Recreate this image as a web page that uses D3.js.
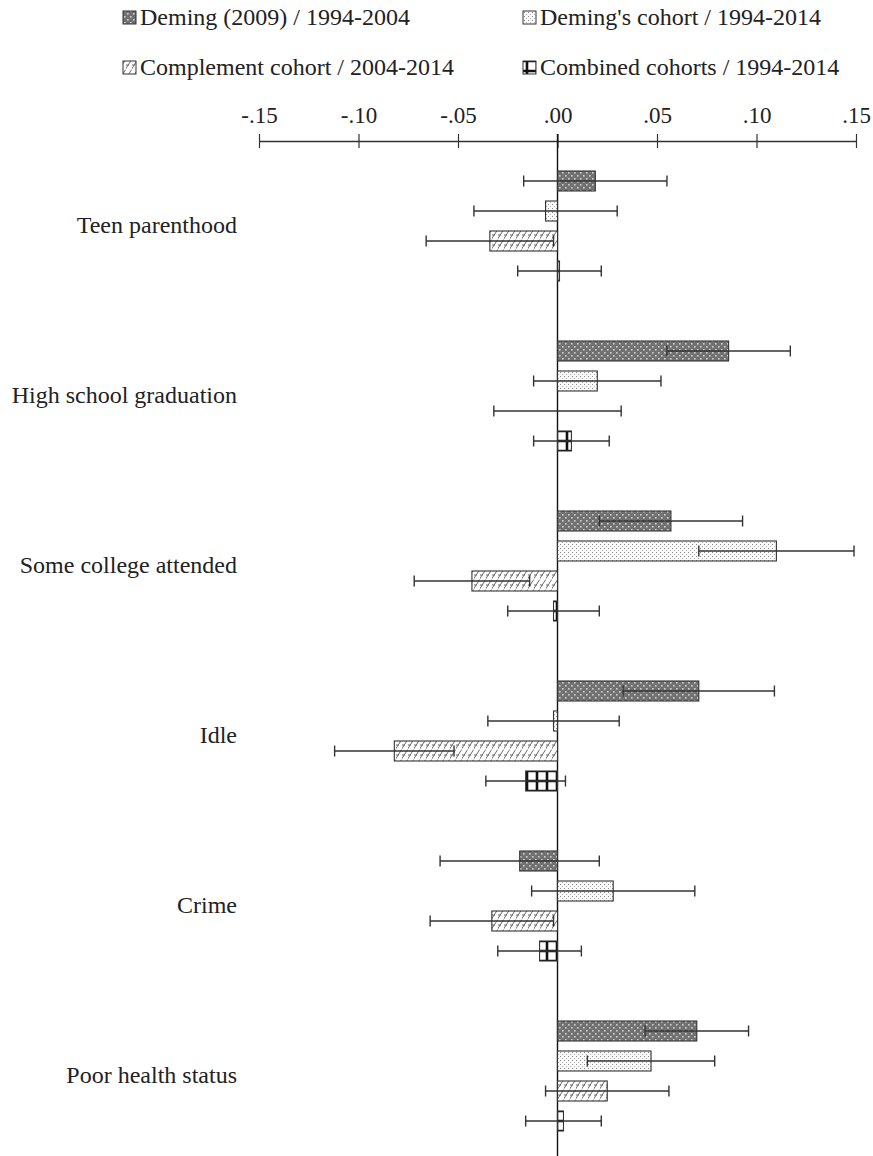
<!DOCTYPE html>
<html>
<head>
<meta charset="utf-8">
<script src="https://d3js.org/d3.v7.min.js"></script>
<style>
  body { margin: 0; background: #fff; }
  svg text { font-family: "Liberation Serif", "Times New Roman", serif; fill: #222; }
</style>
</head>
<body>
<div id="chart"></div>
<script>
// outcomes, top to bottom
const categories = ["Teen parenthood", "High school graduation", "Some college attended", "Idle", "Crime", "Poor health status"];
const seriesNames = ["Deming (2009) / 1994-2004", "Deming's cohort / 1994-2014", "Complement cohort / 2004-2014", "Combined cohorts / 1994-2014"];

// point estimates per series (one per outcome)
const deming2009 = [0.019, 0.086, 0.057, 0.071, -0.019, 0.070];
const demingCohort = [-0.006, 0.020, 0.110, -0.002, 0.028, 0.047];
const complementCohort = [-0.034, 0.000, -0.043, -0.082, -0.033, 0.025];
const combinedCohorts = [0.001, 0.007, -0.002, -0.016, -0.009, 0.003];

// half width of the confidence intervals
const deming2009Ci = [0.036, 0.031, 0.036, 0.038, 0.040, 0.026];
const demingCohortCi = [0.036, 0.032, 0.039, 0.033, 0.041, 0.032];
const complementCohortCi = [0.032, 0.032, 0.029, 0.030, 0.031, 0.031];
const combinedCohortsCi = [0.021, 0.019, 0.023, 0.020, 0.021, 0.019];

const tickValues = [-0.15, -0.10, -0.05, 0, 0.05, 0.10, 0.15];

const estimates = [deming2009, demingCohort, complementCohort, combinedCohorts];
const intervals = [deming2009Ci, demingCohortCi, complementCohortCi, combinedCohortsCi];
const patternIds = ["p-deming", "p-cohort", "p-complement", "p-combined"];

const width = 873, height = 1156;

const svg = d3.select("#chart").append("svg")
    .attr("width", width)
    .attr("height", height);

// fill patterns
const defs = svg.append("defs");

let p = defs.append("pattern").attr("id", "p-deming")
    .attr("patternUnits", "userSpaceOnUse").attr("width", 6).attr("height", 6);
p.append("rect").attr("width", 6).attr("height", 6).attr("fill", "#717171");
p.append("rect").attr("x", 1).attr("y", 1).attr("width", 1.6).attr("height", 1.6).attr("fill", "#cfcfcf");
p.append("rect").attr("x", 4).attr("y", 4).attr("width", 1.6).attr("height", 1.6).attr("fill", "#cfcfcf");

p = defs.append("pattern").attr("id", "p-cohort")
    .attr("patternUnits", "userSpaceOnUse").attr("width", 4).attr("height", 4);
p.append("rect").attr("width", 4).attr("height", 4).attr("fill", "#fafafa");
p.append("rect").attr("x", 0).attr("y", 0).attr("width", 1).attr("height", 1).attr("fill", "#8a8a8a");
p.append("rect").attr("x", 2).attr("y", 2).attr("width", 1).attr("height", 1).attr("fill", "#b0b0b0");

p = defs.append("pattern").attr("id", "p-complement")
    .attr("patternUnits", "userSpaceOnUse").attr("width", 6).attr("height", 10);
p.append("rect").attr("width", 6).attr("height", 10).attr("fill", "#fff");
p.append("path").attr("d", "M-1,10 L6,-1 M5,11 L8,7 M0,5 L3,5")
    .attr("stroke", "#6a6a6a").attr("stroke-width", 1).attr("fill", "none");

p = defs.append("pattern").attr("id", "p-combined")
    .attr("patternUnits", "userSpaceOnUse").attr("x", 2).attr("y", 6)
    .attr("width", 10).attr("height", 10);
p.append("rect").attr("width", 10).attr("height", 10).attr("fill", "#fff");
p.append("path").attr("d", "M5,0 V10 M0,5 H10")
    .attr("stroke", "#111").attr("stroke-width", 2.6).attr("fill", "none");

// scales
const x = d3.scaleLinear().domain([-0.15, 0.15]).range([259, 856]);

const y = d3.scaleBand()
    .domain(categories)
    .range([141, 141 + categories.length * 170]);

const ySeries = d3.scaleBand()
    .domain(d3.range(seriesNames.length))
    .range([0, y.bandwidth()])
    .paddingInner(1 / 3)
    .paddingOuter(1);

// ".15", "-.15", ".00" with a plain hyphen
const fmt = v => d3.format(".2f")(v).replace("\u2212", "-").replace("0.", ".");

// top axis, ticks crossing the line
const axisG = svg.append("g")
    .attr("transform", "translate(0,141)")
    .call(d3.axisTop(x).tickValues(tickValues).tickFormat(fmt)
        .tickSizeInner(7).tickSizeOuter(0).tickPadding(11));
axisG.select(".domain").attr("stroke", "#333").attr("stroke-width", 1.3);
axisG.selectAll(".tick line").attr("y1", 7).attr("stroke", "#333").attr("stroke-width", 1.2);
axisG.selectAll(".tick text")
    .style("font-family", "'Liberation Serif', 'Times New Roman', serif")
    .style("font-size", "23px").attr("fill", "#222");

// zero line
svg.append("line")
    .attr("x1", x(0)).attr("x2", x(0))
    .attr("y1", 134).attr("y2", height)
    .attr("stroke", "#111").attr("stroke-width", 1.4);

// category labels
svg.append("g").selectAll("text")
    .data(categories)
    .join("text")
    .attr("x", 237)
    .attr("y", d => y(d) + y.bandwidth() / 2 - 1)
    .attr("dy", "0.35em")
    .attr("text-anchor", "end")
    .style("font-size", "24px")
    .text(d => d);

// bars and error bars
const rows = [];
categories.forEach((c, ci) => {
  seriesNames.forEach((s, si) => {
    rows.push({ cat: c, s: si, v: estimates[si][ci], e: intervals[si][ci] });
  });
});

const groups = svg.append("g").selectAll("g")
    .data(rows)
    .join("g");

groups.append("rect")
    .attr("x", d => x(Math.min(0, d.v)))
    .attr("y", d => y(d.cat) + ySeries(d.s))
    .attr("width", d => Math.abs(x(d.v) - x(0)))
    .attr("height", ySeries.bandwidth())
    .attr("fill", d => `url(#${patternIds[d.s]})`)
    .attr("stroke", d => d.v === 0 ? "none" : "#333")
    .attr("stroke-width", 1.1);

const capH = 11;
groups.each(function(d) {
  const g = d3.select(this);
  const cy = y(d.cat) + ySeries(d.s) + ySeries.bandwidth() / 2;
  const lo = x(d.v - d.e), hi = x(d.v + d.e);
  g.append("line").attr("x1", lo).attr("x2", hi).attr("y1", cy).attr("y2", cy)
      .attr("stroke", "#333").attr("stroke-width", 1.4);
  [lo, hi].forEach(xx => {
    g.append("line").attr("x1", xx).attr("x2", xx)
        .attr("y1", cy - capH / 2).attr("y2", cy + capH / 2)
        .attr("stroke", "#333").attr("stroke-width", 1.4);
  });
});

// legend, two columns
const legend = svg.append("g");
const legendX = [123, 523];
const legendY = [17, 67];
seriesNames.forEach((s, i) => {
  const lx = legendX[i % 2], ly = legendY[Math.floor(i / 2)];
  legend.append("rect")
      .attr("x", lx).attr("y", ly - 6)
      .attr("width", 13).attr("height", 13)
      .attr("fill", `url(#${patternIds[i]})`)
      .attr("stroke", "#333").attr("stroke-width", 1);
  legend.append("text")
      .attr("x", lx + 17).attr("y", ly)
      .attr("dy", "0.35em")
      .style("font-size", "24px")
      .text(s);
});
</script>
</body>
</html>
